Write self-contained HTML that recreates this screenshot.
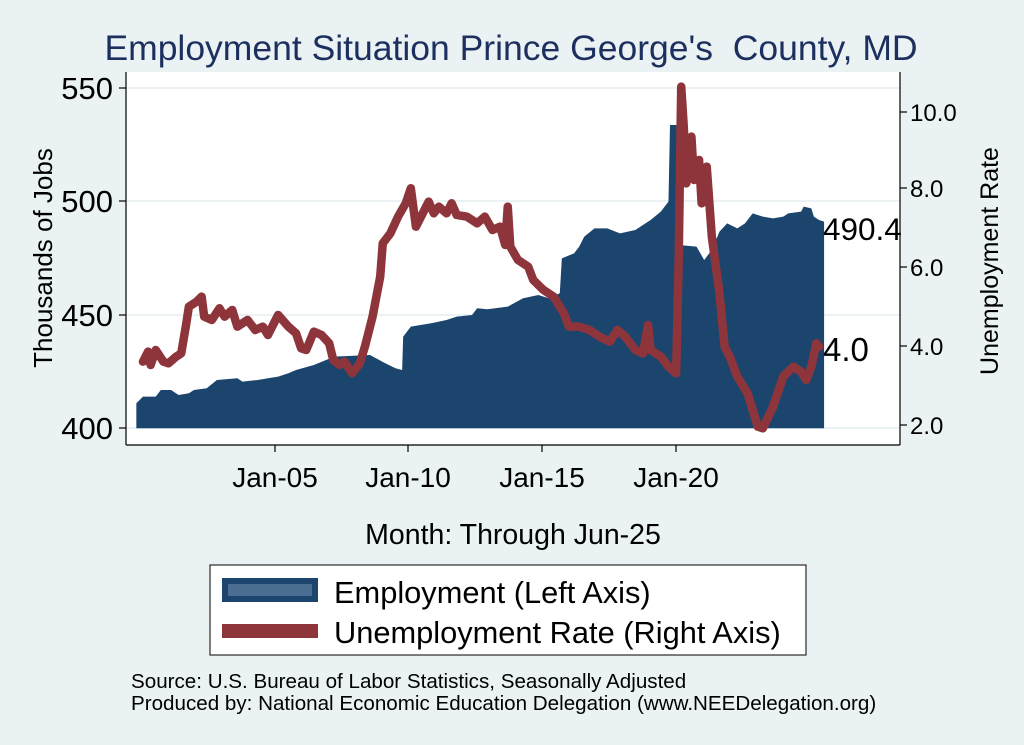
<!DOCTYPE html>
<html><head><style>
body{margin:0;background:#eaf2f3;}
svg{display:block;font-family:"Liberation Sans",Arial,sans-serif;}
</style></head><body>
<svg width="1024" height="745" viewBox="0 0 1024 745">
<rect width="1024" height="745" fill="#eaf2f3"/>
<text x="511" y="60" font-size="35.5" fill="#1c2f5e" text-anchor="middle" style="white-space:pre">Employment Situation Prince George's  County, MD</text>
<rect x="126" y="72" width="774" height="373" fill="#fff"/>
<g stroke="#eaf2f3" stroke-width="2">
<line x1="126" x2="900" y1="88" y2="88"/><line x1="126" x2="900" y1="201" y2="201"/>
<line x1="126" x2="900" y1="315" y2="315"/><line x1="126" x2="900" y1="428" y2="428"/>
</g>
<g transform="translate(120,60) scale(0.5102,0.3333)">
<polygon fill="#1c456e" points="32,1105 32,1030 45,1010 70,1010 80,990 100,990 115,1005 135,1000 145,990 170,985 190,960 230,955 240,965 270,960 290,955 310,950 330,940 345,930 380,915 420,890 490,885 520,910 540,925 553,930 555,830 570,800 610,790 640,780 660,770 690,765 700,745 720,748 760,740 790,715 820,705 840,715 862,700 866,595 890,580 900,560 910,530 930,505 955,505 980,520 1010,510 1040,480 1060,455 1075,425 1078,195 1092,195 1095,555 1130,560 1145,600 1160,570 1175,515 1190,490 1210,505 1225,490 1240,460 1260,470 1280,475 1300,470 1310,460 1335,455 1340,440 1355,445 1360,470 1370,480 1380,485 1380,1105"/>
<polyline fill="none" stroke="#8e353c" stroke-width="8.5" vector-effect="non-scaling-stroke" stroke-linejoin="round" stroke-linecap="round" points="45,905 55,875 60,915 70,870 85,905 95,910 110,890 120,880 130,790 135,740 150,725 160,710 165,770 180,780 195,745 205,770 220,750 230,800 250,780 265,810 280,800 290,825 310,765 330,800 345,820 355,865 365,870 380,815 395,825 410,850 418,900 430,915 440,905 455,940 470,910 480,860 495,770 510,650 515,550 530,520 545,470 560,430 570,385 580,500 590,470 605,425 615,460 625,440 640,460 650,430 660,465 680,470 700,490 715,470 730,510 745,500 755,555 760,440 765,560 780,600 800,620 810,660 830,690 850,710 870,760 880,800 900,800 920,810 940,830 960,845 975,810 990,830 1010,870 1025,880 1035,795 1040,870 1060,890 1075,920 1090,940 1095,600 1100,80 1105,200 1110,370 1120,230 1125,360 1135,300 1140,430 1150,320 1160,530 1175,700 1185,860 1195,890 1210,950 1230,1000 1250,1100 1260,1105 1280,1040 1300,950 1320,920 1335,935 1345,960 1355,920 1365,850 1370,860"/>
</g>
<g stroke="#000" stroke-width="1.2" fill="none">
<line x1="126" y1="72" x2="126" y2="445"/><line x1="900" y1="72" x2="900" y2="445"/>
<line x1="126" y1="445" x2="900" y2="445"/>
<line x1="119" x2="126" y1="88" y2="88"/><line x1="119" x2="126" y1="201" y2="201"/><line x1="119" x2="126" y1="315" y2="315"/><line x1="119" x2="126" y1="428" y2="428"/>
<line x1="900" x2="907" y1="112" y2="112"/><line x1="900" x2="907" y1="188" y2="188"/><line x1="900" x2="907" y1="267" y2="267"/><line x1="900" x2="907" y1="346" y2="346"/><line x1="900" x2="907" y1="425" y2="425"/>
<line x1="275" x2="275" y1="445" y2="452"/><line x1="408" x2="408" y1="445" y2="452"/><line x1="542" x2="542" y1="445" y2="452"/><line x1="676" x2="676" y1="445" y2="452"/>
</g>
<g font-size="31" text-anchor="end">
<text x="113" y="99">550</text><text x="113" y="212">500</text><text x="113" y="326">450</text><text x="113" y="439">400</text>
</g>
<g font-size="24">
<text x="910" y="121">10.0</text><text x="910" y="197">8.0</text><text x="910" y="276">6.0</text><text x="910" y="355">4.0</text><text x="910" y="434">2.0</text>
</g>
<g font-size="25" text-anchor="middle">
<text x="275" y="487" font-size="28">Jan-05</text><text x="408" y="487" font-size="28">Jan-10</text><text x="542" y="487" font-size="28">Jan-15</text><text x="676" y="487" font-size="28">Jan-20</text>
<text x="513" y="544" font-size="28.5">Month: Through Jun-25</text>
</g>
<text font-size="26" text-anchor="middle" transform="translate(52,258) rotate(-90)">Thousands of Jobs</text>
<text font-size="25" text-anchor="middle" transform="translate(998,261) rotate(-90)">Unemployment Rate</text>
<text x="823" y="240" font-size="31.5">490.4</text>
<text x="823" y="361" font-size="33">4.0</text>
<rect x="210" y="565" width="596" height="90" fill="#fff" stroke="#000" stroke-width="1"/>
<rect x="222" y="578" width="96" height="24" fill="#1c456e"/>
<rect x="228" y="584" width="84" height="12" fill="#4a6d91"/>
<rect x="222" y="624" width="96" height="14" fill="#8e353c"/>
<text x="334" y="603" font-size="30.8">Employment (Left Axis)</text>
<text x="334" y="643" font-size="30.8">Unemployment Rate (Right Axis)</text>
<text x="131" y="688" font-size="20.6">Source: U.S. Bureau of Labor Statistics, Seasonally Adjusted</text>
<text x="131" y="710" font-size="20.6">Produced by: National Economic Education Delegation (www.NEEDelegation.org)</text>
</svg>
</body></html>
